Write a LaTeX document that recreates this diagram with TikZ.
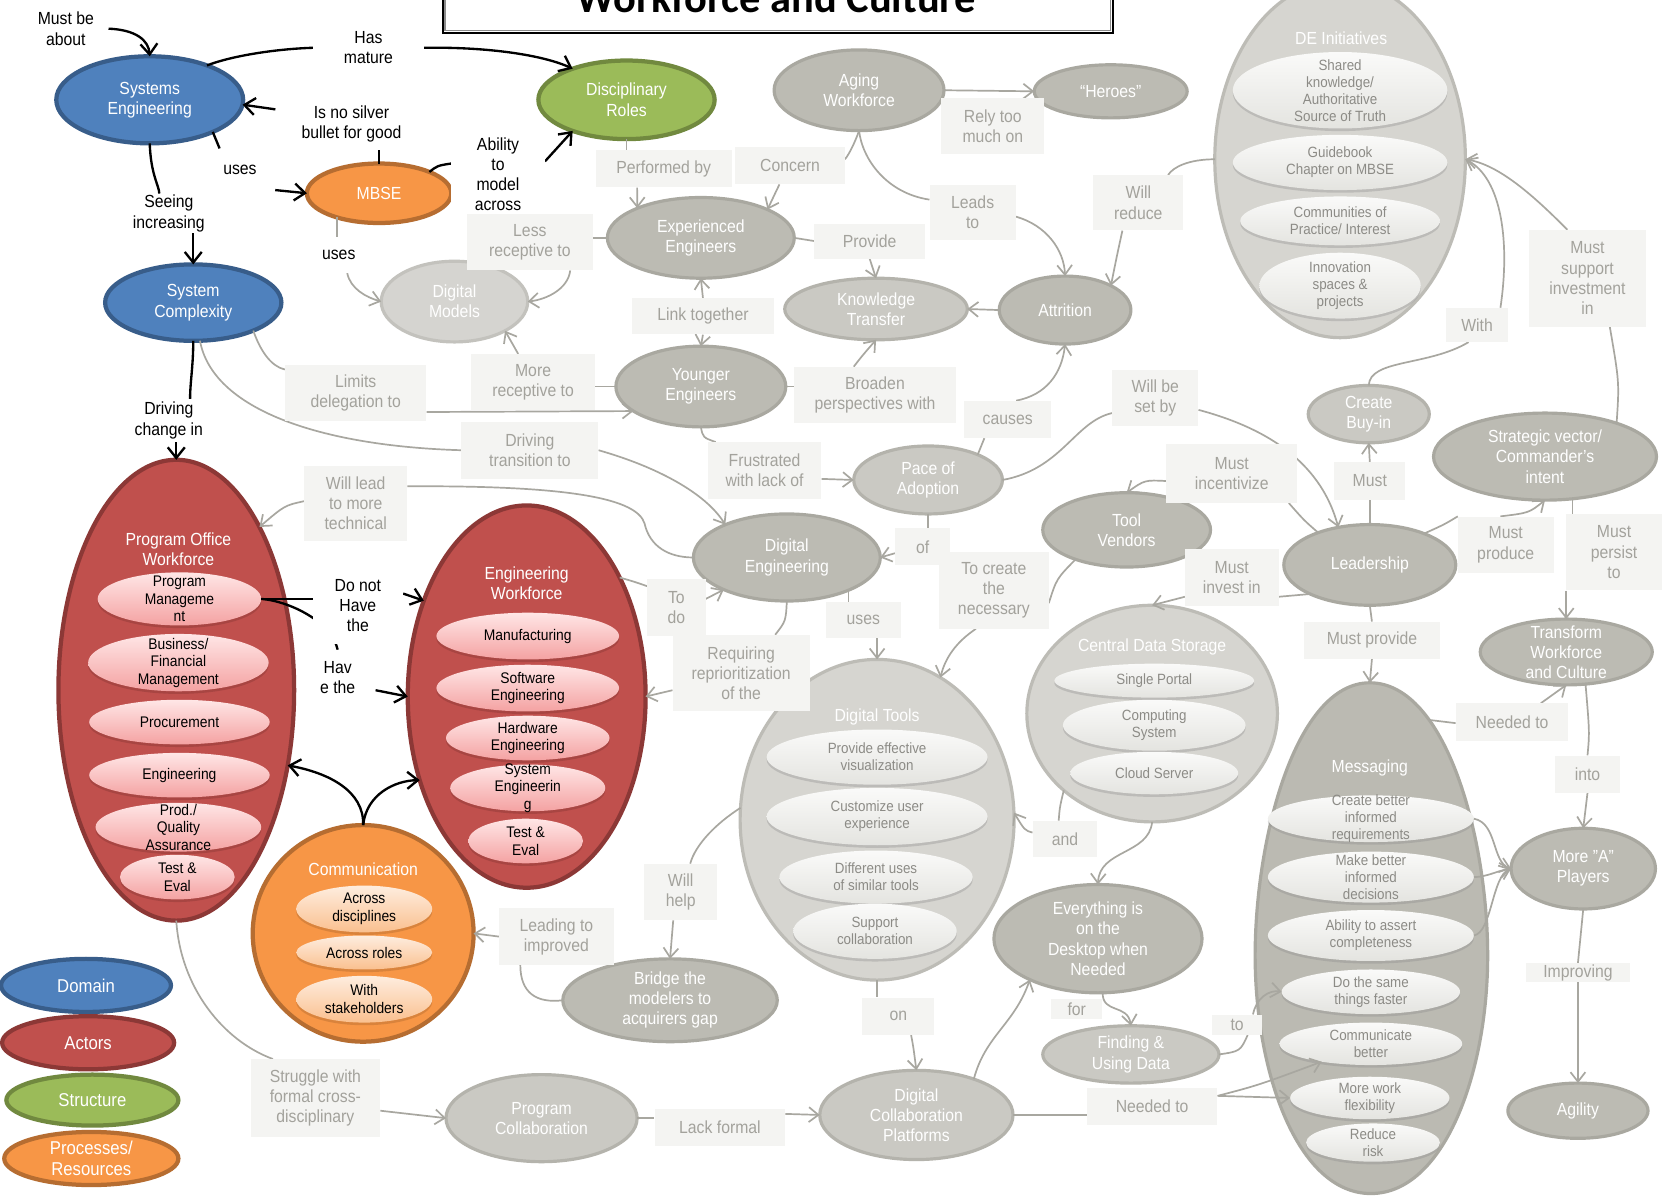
\documentclass[tikz,border=0pt]{standalone}
\usepackage{fontspec}
\setmainfont{Liberation Sans}[FakeStretch=0.9]
\newfontfamily\titlefont{Carlito}
\usetikzlibrary{shapes.geometric,arrows.meta,shadows}
\pgfdeclarelayer{bg}
\pgfdeclarelayer{nodes}
\pgfdeclarelayer{edges}
\pgfsetlayers{bg,nodes,edges,main}
\definecolor{cBlue}{HTML}{4F81BD}
\definecolor{cBlueD}{HTML}{385D8A}
\definecolor{cRed}{HTML}{C0504D}
\definecolor{cRedD}{HTML}{8C3836}
\definecolor{cGreen}{HTML}{9BBB59}
\definecolor{cGreenD}{HTML}{71893F}
\definecolor{cOrange}{HTML}{F79646}
\definecolor{cOrangeD}{HTML}{B66D31}
\definecolor{cPinkT}{HTML}{FFE6E6}
\definecolor{cPinkB}{HTML}{F4A2A2}
\definecolor{cPeachT}{HTML}{FEEDDF}
\definecolor{cPeachB}{HTML}{FAC08F}
\definecolor{cGA}{HTML}{BCBBB3}
\definecolor{cGAD}{HTML}{A9A8A0}
\definecolor{cGB}{HTML}{CAC9C3}
\definecolor{cGBD}{HTML}{B4B3AC}
\definecolor{cGC}{HTML}{D5D4D0}
\definecolor{cGCD}{HTML}{C3C2BD}
\definecolor{cCont}{HTML}{D6D5D0}
\definecolor{cContD}{HTML}{BDBCB6}
\definecolor{cMsg}{HTML}{BBBAB2}
\definecolor{cMsgD}{HTML}{A9A8A0}
\definecolor{cItT}{HTML}{FAFAF9}
\definecolor{cItB}{HTML}{E4E4E0}
\definecolor{cItTxt}{HTML}{8C8B86}
\definecolor{cLab}{HTML}{F4F4F2}
\definecolor{cLabTxt}{HTML}{A3A29C}
\definecolor{cLine}{HTML}{A8A7A0}
\newcommand{\fs}[2]{\fontsize{#1}{#2}\selectfont}
\newcommand{\enode}[8]{\node[#1,minimum width=#5pt,minimum height=#6pt] (#2) at (#3,#4) {};\node[#7] (#2t) at (#2) {#8};}
\newcommand{\lnode}[7]{\node[#1,minimum width=#5pt,minimum height=#6pt] (#2) at (#3,#4) {#7};}
\tikzset{
 ebase/.style={ellipse, inner sep=0pt, outer sep=0pt},
 ndomain/.style={ebase, fill=cBlue, draw=cBlueD, line width=4pt},
 nactor/.style={ebase, fill=cRed, draw=cRedD, line width=4pt},
 nstruct/.style={ebase, fill=cGreen, draw=cGreenD, line width=4pt},
 nproc/.style={ebase, fill=cOrange, draw=cOrangeD, line width=4pt},
 npink/.style={ebase, top color=cPinkT, bottom color=cPinkB, drop shadow={shadow xshift=0pt, shadow yshift=-2.5pt, opacity=.45, fill=cRedD}},
 npeach/.style={ebase, top color=cPeachT, bottom color=cPeachB, drop shadow={shadow xshift=0pt, shadow yshift=-2.5pt, opacity=.45, fill=cOrangeD}},
 gdark/.style={ebase, fill=cGA, draw=cGAD, line width=3pt},
 gmid/.style={ebase, fill=cGB, draw=cGBD, line width=3pt},
 glight/.style={ebase, fill=cGC, draw=cGCD, line width=3pt},
 ncont/.style={ebase, fill=cCont, draw=cContD, line width=3pt},
 nitem/.style={ebase, top color=cItT, bottom color=cItB, drop shadow={shadow xshift=0pt, shadow yshift=-2.5pt, opacity=.35, fill=black!45}},
 wt/.style={text=white, align=center, inner sep=0pt, font=\fs{16.5}{19}},
 lt/.style={text=white, align=center, inner sep=0pt, font=\fs{17.5}{20}},
 bt/.style={text=black, align=center, inner sep=0pt, font=\fs{14.5}{16.5}},
 gt/.style={text=cItTxt, align=center, inner sep=0pt, font=\fs{14}{16}},
 glab/.style={rectangle, fill=cLab, text=cLabTxt, align=center, inner sep=1pt, font=\fs{16.5}{19}},
 blab/.style={rectangle, fill=white, text=black, align=center, inner sep=1pt, font=\fs{16.5}{19}},
 gline/.style={draw=cLine, line width=1.6pt},
 garrow/.style={gline, -{Straight Barb[length=9pt,width=14pt]}},
 bline/.style={draw=black, line width=2.2pt},
 barrow/.style={bline, -{Straight Barb[length=10pt,width=16pt]}},
}
\begin{document}
\begin{tikzpicture}[x=1pt,y=-1pt]
\useasboundingbox (0,0) rectangle (1568,1126);
\begin{pgfonlayer}{bg}
\fill[white] (0,0) rectangle (1568,1126);
\end{pgfonlayer}

\begin{pgfonlayer}{nodes}
% Domain / structure / process / actors
\enode{ndomain}{SE}{141}{94}{176}{82}{wt}{Systems\\Engineering}
\enode{ndomain}{SC}{182}{285}{166}{72}{wt}{System\\Complexity}
\enode{nstruct}{DR}{590}{94}{166}{74}{wt}{Disciplinary\\Roles}
\enode{nproc}{MBSE}{357}{182}{136}{56}{wt}{MBSE}
\enode{ndomain}{legD}{81}{928}{160}{50}{lt}{Domain}
\enode{nactor}{legA}{83}{982}{162}{50}{lt}{Actors}
\enode{nstruct}{legS}{87}{1036}{162}{48}{lt}{Structure}
\enode{nproc}{legP}{86}{1091}{164}{50}{lt}{Processes/\\Resources}

% Program office workforce
\node[nactor, minimum width=222pt, minimum height=434pt] (POW) at (166,650) {};
\node[wt] (POWt) at (168,517) {Program Office\\Workforce};
\enode{npink}{pm}{169}{564}{154}{50}{bt}{Program\\Manageme\\nt}
\enode{npink}{bfm}{168}{624}{170}{54}{bt}{Business/\\Financial\\Management}
\enode{npink}{proc}{169}{680}{170}{42}{bt}{Procurement}
\enode{npink}{eng}{169}{730}{170}{42}{bt}{Engineering}
\enode{npink}{pqa}{168}{779}{156}{46}{bt}{Prod./\\Quality\\Assurance}
\enode{npink}{teA}{167}{826}{108}{42}{bt}{Test \&\\Eval}

% Engineering workforce
\node[nactor, minimum width=224pt, minimum height=360pt] (EW) at (496,656) {};
\node[wt] (EWt) at (496,549) {Engineering\\Workforce};
\enode{npink}{man}{497}{599}{172}{44}{bt}{Manufacturing}
\enode{npink}{sw}{497}{648}{172}{44}{bt}{Software\\Engineering}
\enode{npink}{hw}{497}{695}{154}{42}{bt}{Hardware\\Engineering}
\enode{npink}{sys}{497}{742}{146}{44}{bt}{System\\Engineerin\\g}
\enode{npink}{teB}{495}{792}{108}{42}{bt}{Test \&\\Eval}

% Communication
\node[nproc, minimum width=208pt, minimum height=204pt] (Comm) at (342,879) {};
\node[wt] (Commt) at (342,819) {Communication};
\enode{npeach}{cA}{343}{856}{128}{44}{bt}{Across\\disciplines}
\enode{npeach}{cB}{343}{897}{128}{32}{bt}{Across roles}
\enode{npeach}{cC}{343}{941}{128}{44}{bt}{With\\stakeholders}

% Gray concepts
\enode{gdark}{Aging}{809}{85}{160}{76}{wt}{Aging\\Workforce}
\enode{gdark}{Heroes}{1046}{86}{144}{50}{wt}{“Heroes”}
\enode{gdark}{EE}{660}{224}{176}{76}{wt}{Experienced\\Engineers}
\enode{glight}{DM}{428}{284}{138}{76}{wt}{Digital\\Models}
\enode{gmid}{KT}{825}{291}{172}{58}{wt}{Knowledge\\Transfer}
\enode{gdark}{Attr}{1003}{292}{124}{64}{wt}{Attrition}
\enode{gdark}{YE}{660}{364}{160}{76}{wt}{Younger\\Engineers}
\enode{gmid}{PoA}{874}{452}{140}{64}{wt}{Pace of\\Adoption}
\enode{gdark}{DE}{741}{525}{176}{82}{wt}{Digital\\Engineering}
\enode{gdark}{TV}{1061}{499}{158}{70}{wt}{Tool\\Vendors}
\enode{gdark}{Lead}{1290}{532}{162}{76}{wt}{Leadership}
\enode{gmid}{CB}{1289}{390}{114}{54}{wt}{Create\\Buy-in}
\enode{gdark}{SV}{1455}{430}{210}{82}{wt}{Strategic vector/\\Commander's\\intent}
\enode{gdark}{Trans}{1475}{614}{162}{62}{wt}{Transform\\Workforce\\and Culture}
\enode{gdark}{MAP}{1491}{818}{136}{76}{wt}{More "A"\\Players}
\enode{gdark}{Agil}{1486}{1046}{132}{52}{wt}{Agility}
\enode{gdark}{EOD}{1034}{884}{196}{102}{wt}{Everything is\\on the\\Desktop when\\Needed}
\enode{gmid}{FUD}{1065}{993}{166}{54}{wt}{Finding \&\\Using Data}
\enode{gdark}{Bridge}{631}{942}{202}{78}{wt}{Bridge the\\modelers to\\acquirers gap}
\enode{gmid}{PC}{510}{1053}{180}{82}{wt}{Program\\Collaboration}
\enode{gmid}{DCP}{863}{1050}{182}{84}{wt}{Digital\\Collaboration\\Platforms}

% DE Initiatives
\node[ncont, minimum width=236pt, minimum height=336pt] (DEI) at (1262,150) {};
\node[wt] (DEIt) at (1263,36) {DE Initiatives};
\enode{nitem}{dA}{1262}{85}{202}{72}{gt}{Shared\\knowledge/\\Authoritative\\Source of Truth}
\enode{nitem}{dB}{1262}{153}{202}{52}{gt}{Guidebook\\Chapter on MBSE}
\enode{nitem}{dC}{1262}{208}{188}{46}{gt}{Communities of\\Practice/ Interest}
\enode{nitem}{dD}{1262}{269}{152}{62}{gt}{Innovation\\spaces \&\\projects}

% Central data storage
\node[ncont, minimum width=236pt, minimum height=204pt] (CDS) at (1085,672) {};
\node[wt] (CDSt) at (1085,609) {Central Data Storage};
\enode{nitem}{sA}{1087}{641}{188}{32}{gt}{Single Portal}
\enode{nitem}{sB}{1087}{683}{172}{48}{gt}{Computing\\System}
\enode{nitem}{sC}{1087}{728}{158}{40}{gt}{Cloud Server}

% Digital tools
\node[ncont, minimum width=258pt, minimum height=302pt] (DT) at (826,772) {};
\node[wt] (DTt) at (826,675) {Digital Tools};
\enode{nitem}{tA}{826}{713}{208}{52}{gt}{Provide effective\\visualization}
\enode{nitem}{tB}{826}{769}{208}{54}{gt}{Customize user\\experience}
\enode{nitem}{tC}{825}{826}{182}{50}{gt}{Different uses\\of similar tools}
\enode{nitem}{tD}{824}{877}{154}{52}{gt}{Support\\collaboration}

% Messaging
\path[fill=cMsg, draw=cMsgD, line width=3pt] (1290,643) .. controls (1362,643) and (1401,790) .. (1401,900) .. controls (1401,1010) and (1360,1124) .. (1291,1124) .. controls (1222,1124) and (1182,1010) .. (1182,900) .. controls (1182,790) and (1220,643) .. (1290,643) -- cycle;
\coordinate (MsgTop) at (1290,643);
\coordinate (MsgNE) at (1346,678);
\node[wt] (Msgt) at (1290,723) {Messaging};
\enode{nitem}{miA}{1291}{771}{194}{44}{gt}{Create better\\informed\\requirements}
\enode{nitem}{miB}{1291}{826}{194}{48}{gt}{Make better\\informed\\decisions}
\enode{nitem}{miC}{1291}{881}{194}{48}{gt}{Ability to assert\\completeness}
\enode{nitem}{miD}{1291}{934}{168}{42}{gt}{Do the same\\things faster}
\enode{nitem}{miE}{1291}{983}{172}{40}{gt}{Communicate\\better}
\enode{nitem}{miF}{1290}{1034}{150}{40}{gt}{More work\\flexibility}
\enode{nitem}{miG}{1293}{1076}{126}{36}{gt}{Reduce\\risk}
\end{pgfonlayer}

% Title
\node[draw=black, line width=2pt, minimum width=631pt, minimum height=80pt, inner sep=0pt, fill=white] (titlebox) at (732.5,-9) {};
\draw[black!45, line width=1.2pt] ([shift={(3pt,3pt)}]titlebox.south west) rectangle ([shift={(-3pt,-3pt)}]titlebox.north east);
\node[font=\titlefont\bfseries\fontsize{40}{40}\selectfont, anchor=base, inner sep=0pt] (title) at (731,12) {Workforce and Culture};

% Black labels
\lnode{blab}{lMustBe}{62}{27}{80}{46}{Must be\\about}
\lnode{blab}{lHas}{347}{45}{104}{53}{Has\\mature}
\lnode{blab}{lSilver}{331}{117}{143}{48}{Is no silver\\bullet for good}
\lnode{blab}{lUses1}{226}{160}{66}{40}{uses}
\lnode{blab}{lAbility}{469}{164}{88}{84}{Ability\\to\\model\\across}
\lnode{blab}{lSeeing}{159}{201}{80}{37}{Seeing\\increasing}
\lnode{blab}{lUses2}{319}{240}{66}{34}{uses}
\lnode{blab}{lDriving}{159}{396}{84}{40}{Driving\\change in}
\lnode{blab}{lDoNot}{337}{570}{85}{73}{Do not\\Have\\the}
\lnode{blab}{lHave}{318}{638}{71}{52}{Hav\\e the}

% Gray labels
\lnode{glab}{lPerf}{625}{159}{128}{35}{Performed by}
\lnode{glab}{lConcern}{744}{156}{103}{35}{Concern}
\lnode{glab}{lRely}{935}{119}{97}{53}{Rely too\\much on}
\lnode{glab}{lLess}{499}{228}{118}{53}{Less\\receptive to}
\lnode{glab}{lLeads}{916}{200}{81}{52}{Leads\\to}
\lnode{glab}{lReduce}{1072}{191}{85}{52}{Will\\reduce}
\lnode{glab}{lProvide}{819}{227}{104}{33}{Provide}
\lnode{glab}{lLink}{662}{298}{133}{34}{Link together}
\lnode{glab}{lLimits}{335}{370}{133}{53}{Limits\\delegation to}
\lnode{glab}{lMore}{502}{360}{116}{53}{More\\receptive to}
\lnode{glab}{lBroaden}{824}{372}{152}{53}{Broaden\\perspectives with}
\lnode{glab}{lCauses}{949}{395}{82}{35}{causes}
\lnode{glab}{lWillBe}{1088}{375}{81}{53}{Will be\\set by}
\lnode{glab}{lDrivT}{499}{424}{129}{54}{Driving\\transition to}
\lnode{glab}{lWillLead}{335}{474}{97}{71}{Will lead\\to more\\technical}
\lnode{glab}{lFrust}{720}{443}{107}{53}{Frustrated\\with lack of}
\lnode{glab}{lIncent}{1160}{446}{123}{55}{Must\\incentivize}
\lnode{glab}{lMust}{1290}{453}{67}{35}{Must}
\lnode{glab}{lSupport}{1495}{262}{110}{91}{Must\\support\\investment\\in}
\lnode{glab}{lWith}{1391}{306}{59}{32}{With}
\lnode{glab}{lProduce}{1418}{513}{90}{53}{Must\\produce}
\lnode{glab}{lPersist}{1520}{520}{90}{72}{Must\\persist\\to}
\lnode{glab}{lOf}{869}{515}{52}{35}{of}
\lnode{glab}{lToCreate}{936}{556}{103}{72}{To create\\the\\necessary}
\lnode{glab}{lInvest}{1160}{544}{88}{54}{Must\\invest in}
\lnode{glab}{lToDo}{637}{572}{55}{53}{To\\do}
\lnode{glab}{lUses3}{813}{584}{71}{34}{uses}
\lnode{glab}{lMustProv}{1292}{603}{128}{35}{Must provide}
\lnode{glab}{lReq}{698}{634}{129}{72}{Requiring\\reprioritization\\of the}
\lnode{glab}{lNeeded}{1424}{680}{106}{35}{Needed to}
\lnode{glab}{lInto}{1495}{729}{62}{35}{into}
\lnode{glab}{lAnd}{1003}{790}{61}{34}{and}
\lnode{glab}{lWillHelp}{641}{840}{69}{53}{Will\\help}
\lnode{glab}{lLeading}{524}{882}{108}{53}{Leading to\\improved}
\lnode{glab}{lImpr}{1486}{916}{98}{18}{Improving}
\lnode{glab}{lOn}{846}{957}{68}{35}{on}
\lnode{glab}{lFor}{1014}{950}{48}{19}{for}
\lnode{glab}{lTo}{1165}{965}{47}{19}{to}
\lnode{glab}{lStruggle}{297}{1034}{122}{73}{Struggle with\\formal cross-\\disciplinary}
\lnode{glab}{lLack}{678}{1062}{123}{35}{Lack formal}
\lnode{glab}{lNeeded2}{1085}{1042}{123}{34}{Needed to}

\begin{pgfonlayer}{edges}
% ---- black connectors
\draw[barrow] (lMustBe.east) .. controls (128,28) and (140,38) .. (SE.north);
\draw[bline] (SE.31) .. controls (220,52) and (262,46) .. (lHas.west);
\draw[barrow] (lHas.east) .. controls (460,44) and (512,52) .. (DR.150);
\draw[bline] (MBSE.north) -- (MBSE.north |- lSilver.south);
\draw[barrow] ([yshift=14pt]lSilver.west) -- (SE.-3);
\draw[bline] (MBSE.23) .. controls (412,156) .. ([yshift=10pt]lAbility.west);
\draw[barrow] ([yshift=12pt]lAbility.east) -- (DR.-150);
\draw[bline] (SE.-27) -- ([xshift=14pt]lUses1.north west);
\draw[barrow] ([yshift=-19pt]lUses1.east) -- (MBSE.west);
\draw[bline] (SE.south) .. controls (142,165) and (150,175) .. ([xshift=-9pt]lSeeing.north);
\draw[barrow] (SC.north |- lSeeing.south) -- (SC.north);
\draw[bline] (SC.south) .. controls (182,345) and (179,360) .. ([xshift=20pt]lDriving.north);
\draw[barrow] (POW.north |- lDriving.south) -- (POW.north);
\draw[bline] (pm.east) -- (pm.east -| lDoNot.west);
\draw[bline] (pm.east) .. controls (272,566) and (312,585) .. (lHave.north);
\draw[barrow] ([yshift=11pt]lDoNot.east) -- (EW.137);
\draw[barrow] ([yshift=-12pt]lHave.east) -- (EW.west);
\draw[barrow] (Comm.north) .. controls (343,745) and (310,728) .. (POW.-34);
\draw[barrow] (Comm.north) .. controls (345,748) and (372,735) .. (EW.-142);
% ---- gray connectors
\draw[gline] (MBSE.-150) -- (MBSE.-150 |- lUses2.north);
\draw[garrow] ([xshift=8pt]lUses2.south) .. controls (330,272) and (345,280) .. (DM.west);
\draw[gline] (EE.west) -- (EE.west -| lLess.east);
\draw[garrow] ([xshift=38pt]lLess.south) .. controls (535,272) and (515,282) .. (DM.east);
\draw[gline] (YE.west) -- (YE.west -| lMore.east);
\draw[garrow] ([xshift=-14pt]lMore.north) -- (DM.-30);
\draw[gline] (DR.south) -- (DR.south |- lPerf.north);
\draw[garrow] ([xshift=-25pt]lPerf.south) -- (EE.155);
\draw[gline] (Aging.south) .. controls (806,132) and (800,145) .. ([yshift=6pt]lConcern.east);
\draw[garrow] ([xshift=-10pt]lConcern.south) .. controls (730,182) .. (EE.23);
\draw[garrow] (Aging.east) -- (Heroes.west);
\draw[gline] (Aging.south) .. controls (812,150) and (835,182) .. ([yshift=12pt]lLeads.west);
\draw[garrow] ([yshift=-4pt]lLeads.east) .. controls (985,212) and (1002,235) .. (Attr.north);
\draw[gline] (DEI.west) .. controls (1120,150) and (1105,157) .. ([xshift=28pt]lReduce.north);
\draw[garrow] ([xshift=-15pt]lReduce.south) .. controls (1052,240) .. (Attr.28);
\draw[gline] (EE.east) -- (lProvide.west);
\draw[garrow] (lProvide.south) -- (KT.north);
\draw[garrow] (lLink.north) -- (EE.south);
\draw[garrow] (lLink.south) -- (YE.north);
\draw[garrow] (Attr.west) -- (KT.east);
\draw[gline] (YE.east) -- (YE.east -| lBroaden.west);
\draw[garrow] ([xshift=-20pt]lBroaden.north) .. controls (812,335) .. (KT.south);
\draw[gline] (PoA.27) -- ([xshift=-22pt]lCauses.south);
\draw[garrow] ([xshift=8pt]lCauses.north) .. controls (985,372) and (1000,352) .. (Attr.south);
\draw[gline] (SC.-25) .. controls (245,330) and (255,345) .. ([yshift=22pt]lLimits.west);
\draw[garrow] ([yshift=-18pt]lLimits.east) -- (YE.-160);
\draw[gline] (SC.-80) .. controls (200,385) and (300,420) .. (lDrivT.west);
\draw[garrow] (lDrivT.east) .. controls (620,440) and (665,465) .. (DE.152);
\draw[gline] (DE.west) .. controls (630,525) and (612,515) .. (607,493) .. controls (600,470) and (540,457) .. ([yshift=16pt]lWillLead.east);
\draw[garrow] ([yshift=2pt]lWillLead.west) .. controls (268,476) .. (POW.63);
\draw[gline] (YE.south) .. controls (662,412) .. ([xshift=-46pt]lFrust.north);
\draw[garrow] ([yshift=-8pt]lFrust.east) -- (PoA.west);
\draw[gline] (PoA.south) -- (PoA.south |- lOf.north);
\draw[garrow] ([yshift=-6pt]lOf.west) -- (DE.east);
\draw[gline] (TV.-150) .. controls (995,545) .. ([yshift=-12pt]lToCreate.east);
\draw[garrow] ([xshift=-17pt]lToCreate.south) .. controls (900,605) and (890,620) .. (DT.66);
\draw[gline] (EW.52) .. controls (598,548) .. ([yshift=20pt]lToDo.west);
\draw[garrow] ([yshift=8pt]lToDo.east) -- (DE.-153);
\draw[gline] (DE.south) .. controls (740,585) .. ([xshift=32pt]lReq.north);
\draw[garrow] ([yshift=-16pt]lReq.west) -- (EW.east);
\draw[gline] (DE.-28) -- (DE.-28 |- lUses3.north);
\draw[garrow] ([xshift=13pt]lUses3.south) -- (DT.north);
\draw[gline] (Lead.148) .. controls (1228,490) .. ([xshift=-8pt]lIncent.south east);
\draw[garrow] ([yshift=-7pt]lIncent.west) .. controls (1078,452) .. (TV.north);
\draw[gline] (PoA.east) .. controls (1000,442) and (1012,397) .. ([yshift=-14pt]lWillBe.west);
\draw[garrow] ([yshift=-11pt]lWillBe.east) .. controls (1200,405) and (1245,440) .. (Lead.130);
\draw[gline] (Lead.north) -- (lMust.south);
\draw[garrow] (lMust.north) -- (CB.south);
\draw[gline] (CB.north) .. controls (1290,338) and (1345,345) .. ([xshift=-8pt]lWith.south);
\draw[garrow] ([xshift=22pt]lWith.north) .. controls (1422,230) and (1415,168) .. (DEI.east);
\draw[gline] (SV.25) .. controls (1525,360) .. ([xshift=21pt]lSupport.south);
\draw[garrow] ([xshift=-19pt]lSupport.north) .. controls (1440,180) and (1410,155) .. (DEI.east);
\draw[gline] (Lead.30) .. controls (1360,494) .. (lProduce.north west);
\draw[garrow] ([xshift=-5pt]lProduce.north) .. controls (1440,483) .. (SV.south);
\draw[gline] (SV.-57) -- (SV.-57 |- lPersist.north);
\draw[garrow] (Trans.north |- lPersist.south) -- (Trans.north);
\draw[gline] (Lead.-154) -- ([yshift=-18pt]lInvest.east);
\draw[garrow] ([yshift=-18pt]lInvest.west) -- (CDS.north);
\draw[gline] (Lead.south) -- (lMustProv.north);
\draw[garrow] (lMustProv.south) -- (MsgTop);
\draw[gline] (MsgNE) -- ([yshift=-1pt]lNeeded.west);
\draw[garrow] ([xshift=27pt]lNeeded.north) .. controls (1462,655) .. (Trans.south);
\draw[gline] (Trans.-59) .. controls (1497,690) .. (lInto.north);
\draw[garrow] (lInto.south) -- (MAP.north);
\draw[garrow] (miA.east) .. controls (1410,775) and (1405,812) .. (MAP.west);
\draw[garrow] (miB.east) .. controls (1400,826) and (1410,820) .. (MAP.west);
\draw[garrow] (miC.east) .. controls (1405,878) and (1405,825) .. (MAP.west);
\draw[gline] (MAP.south) -- (lImpr.north);
\draw[garrow] (lImpr.south) -- (Agil.north);
\draw[gline] (CDS.-139) .. controls (998,760) .. ([xshift=-6pt]lAnd.north);
\draw[garrow] ([yshift=6pt]lAnd.west) .. controls (965,782) .. (DT.3);
\draw[garrow] (CDS.south) .. controls (1082,805) and (1035,800) .. (EOD.north);
\draw[gline] (DT.175) .. controls (675,775) and (655,795) .. ([xshift=9pt]lWillHelp.north);
\draw[garrow] ([xshift=-7pt]lWillHelp.south) -- (Bridge.north);
\draw[gline] (Bridge.west) .. controls (505,945) and (490,935) .. ([xshift=-34pt]lLeading.south);
\draw[garrow] (lLeading.west) -- (Comm.east);
\draw[gline] (DT.south) -- (DT.south |- lOn.north);
\draw[garrow] ([xshift=12pt]lOn.south) .. controls (860,985) .. (DCP.north);
\draw[garrow] (DCP.32) .. controls (928,975) and (955,965) .. (EOD.-149);
\draw[garrow] (EOD.-85) .. controls (1038,955) and (1062,945) .. (FUD.north);
\draw[gline] (FUD.east) .. controls (1168,990) .. ([xshift=10pt]lTo.south);
\draw[garrow] ([xshift=15pt]lTo.north) .. controls (1183,940) and (1195,932) .. (miD.west);
\draw[gline] (DCP.east) -- (DCP.east -| lNeeded2.west);
\draw[garrow] ([yshift=10pt]lNeeded2.east) .. controls (1185,1022) .. (miE.-160);
\draw[garrow] ([yshift=10pt]lNeeded2.east) -- (miF.west);
\draw[gline] (POW.south) .. controls (170,930) and (210,980) .. ([xshift=-40pt]lStruggle.north);
\draw[garrow] ([yshift=-12pt]lStruggle.east) -- (PC.west);
\draw[gline] (PC.east) -- (PC.east -| lLack.west);
\draw[garrow] ([yshift=13pt]lLack.east) -- (DCP.west);
\end{pgfonlayer}
\end{tikzpicture}
\end{document}
